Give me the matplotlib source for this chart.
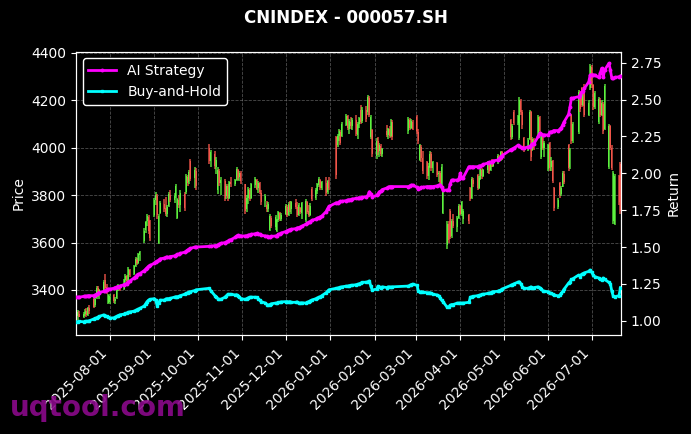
import numpy as np
import pandas as pd
import matplotlib
matplotlib.use("Agg")
import matplotlib.pyplot as plt
import matplotlib.dates as mdates

# ---------------- data ----------------
title = "CNINDEX - 000057.SH"
start_date = "2025-07-09"
end_date = "2026-07-21"
holidays = ["2025-10-01", "2025-10-02", "2025-10-03", "2025-10-06", "2025-10-07", "2025-10-08",
            "2026-01-01", "2026-01-02",
            "2026-02-16", "2026-02-17", "2026-02-18", "2026-02-19", "2026-02-20", "2026-02-23",
            "2026-04-06", "2026-05-01", "2026-05-04", "2026-05-05", "2026-06-19"]

open_ = [
    3330,3292,3300,3285,3298,3310,3296,3322,3360,3335,3365,3408,3380,3400,3440,3412,3345,
    3350,3378,3355,3365,3402,3415,3405,3440,3458,3440,3485,3468,3502,3528,3515,3548,3605,3652,3690,3708,3690,
    3715,3778,3795,3600,3725,3762,3745,3722,3755,3800,3780,3795,3705,3780,3760,3805,3815,3875,3855,3945,3872,3900,
    4000,3945,3975,3920,3820,3900,3850,3860,3795,3838,3790,3855,3848,3865,3905,3875,3892,
    3845,3740,3790,3822,3790,3842,3865,3830,3850,3810,3775,3760,3742,3655,3705,3665,3650,3695,3725,3700,
    3720,3752,3718,3760,3740,3768,3750,3718,3745,3725,3695,3772,3732,3718,3825,3788,3818,3842,3865,3832,3850,3812,3855,
    4045,4010,4048,4068,4050,4098,4132,4080,4110,4092,4115,4055,4100,4160,4112,4158,4150,4210,4045,4075,
    3965,4030,3985,4008,3975,4070,4055,4080,4050,4108,4070,4118,4085,4110,
    4130,4065,3950,4005,3955,3940,3880,3920,3975,3915,3935,3888,3895,3845,3725,3590,3680,3735,3628,3690,3665,3705,
    3755,3720,3700,3715,3830,3790,3865,3885,3832,3870,3908,3882,3905,3935,3905,3938,3925,3945,3962,3950,3980,
    4115,4045,4150,4105,4040,4198,4150,4040,3992,4035,4150,3990,4035,4050,4130,3960,4045,3998,
    3910,4020,3918,3945,3830,3748,3850,3805,3835,3890,4010,3920,4140,4030,4065,4230,4250,4182,4260,4140,4250,
    4340,4265,4170,4110,4200,4140,4185,4080,3920,4090,4000,3690,3680,3880,3930,
]
high = [
    3338,3315,3312,3305,3318,3322,3330,3335,3372,3370,3418,3415,3404,3440,3468,3425,3385,
    3383,3384,3370,3410,3425,3420,3448,3468,3465,3496,3490,3505,3538,3534,3556,3566,3660,3693,3721,3715,3695,
    3790,3812,3805,3721,3777,3784,3791,3760,3815,3820,3810,3848,3790,3800,3820,3812,3890,3885,3905,3953,3920,3915,
    4017,3990,3988,3960,3918,3910,3876,3870,3848,3845,3860,3876,3870,3918,3912,3904,3900,
    3848,3800,3834,3830,3850,3876,3870,3860,3856,3820,3805,3777,3770,3721,3712,3715,3700,3735,3730,3725,
    3763,3758,3770,3777,3775,3784,3770,3765,3749,3770,3784,3777,3760,3765,3834,3830,3850,3876,3870,3860,3876,3865,3876,
    4048,4060,4080,4075,4110,4143,4140,4120,4129,4125,4137,4110,4130,4179,4170,4175,4221,4218,4137,4080,
    4040,4045,4020,4015,4000,4094,4085,4090,4122,4115,4129,4125,4122,4118,
    4137,4080,4017,4010,3988,3946,3935,3988,3980,3946,3940,3904,3900,3932,3840,3693,3690,3742,3700,3721,3710,3763,
    3760,3777,3740,3721,3834,3876,3872,3890,3880,3918,3915,3912,3946,3942,3945,3953,3950,3974,3970,3988,3985,
    4122,4100,4158,4140,4214,4205,4160,4045,4040,4158,4155,4045,4040,4137,4135,4059,4052,4030,
    4017,4024,3960,3950,3834,3790,3855,3840,3904,3900,4017,4000,4143,4110,4242,4240,4256,4240,4270,4200,4355,
    4350,4270,4240,4214,4210,4200,4195,4270,4101,4095,4010,3904,3890,3885,3940,
]
low = [
    3278,3275,3284,3280,3290,3288,3290,3300,3325,3330,3360,3370,3362,3395,3400,3383,3340,
    3342,3345,3340,3360,3395,3397,3400,3432,3430,3436,3455,3462,3495,3505,3510,3524,3600,3640,3670,3637,3608,
    3707,3760,3700,3594,3720,3730,3714,3707,3749,3770,3765,3790,3700,3745,3728,3735,3805,3840,3845,3860,3830,3820,
    3930,3918,3910,3890,3806,3840,3800,3777,3785,3777,3785,3834,3838,3860,3862,3860,3848,
    3721,3730,3763,3775,3785,3830,3820,3810,3805,3760,3749,3728,3730,3650,3660,3655,3643,3686,3690,3692,
    3715,3707,3712,3730,3721,3740,3707,3710,3721,3700,3686,3720,3707,3712,3777,3780,3805,3835,3820,3822,3798,3805,3820,
    3869,4003,4030,4010,4045,4090,4075,4059,4080,4073,4050,4038,4085,4101,4105,4110,4140,4130,4038,3960,
    3953,3970,3960,3965,3960,4045,4038,4040,4045,4031,4059,4075,4078,4073,
    4060,4017,3946,3940,3890,3870,3862,3915,3904,3895,3876,3855,3834,3840,3721,3573,3600,3615,3620,3660,3643,3700,
    3715,3710,3679,3679,3777,3785,3834,3820,3825,3862,3870,3875,3895,3890,3900,3918,3920,3932,3940,3946,3950,
    4031,4035,4094,4095,4031,4140,4080,3981,3985,4031,3946,3988,3990,4045,4060,3953,3990,3960,
    3904,3904,3900,3850,3735,3740,3790,3795,3834,3845,3904,3912,4017,4020,4059,4150,4172,4175,4130,4135,4242,
    4250,4158,4165,4101,4130,4135,4059,4073,3911,3990,3905,3679,3672,3760,3720,
]
close = [
    3290,3305,3288,3300,3312,3295,3325,3310,3330,3362,3410,3378,3398,3435,3410,3388,3378,
    3376,3352,3362,3405,3418,3400,3442,3460,3438,3488,3465,3500,3530,3512,3550,3560,3650,3685,3712,3650,3620,
    3780,3800,3715,3710,3765,3740,3720,3752,3805,3778,3798,3840,3782,3760,3810,3745,3880,3850,3898,3870,3905,3840,
    3945,3980,3925,3950,3905,3850,3865,3790,3840,3790,3855,3845,3862,3910,3872,3895,3860,
    3735,3790,3825,3785,3845,3868,3828,3852,3812,3770,3798,3740,3762,3712,3670,3708,3695,3728,3700,3718,
    3755,3715,3762,3738,3770,3748,3715,3758,3728,3765,3775,3730,3715,3755,3785,3820,3845,3868,3830,3855,3810,3858,3830,
    3885,4050,4070,4022,4100,4135,4085,4112,4090,4118,4060,4102,4125,4110,4160,4120,4215,4140,4130,3975,
    4030,3980,4010,3972,3995,4055,4078,4048,4110,4045,4120,4085,4112,4080,
    4070,4030,4010,3955,3900,3880,3925,3975,3915,3938,3885,3895,3845,3920,3835,3680,3612,3625,3690,3668,3705,3755,
    3722,3770,3735,3690,3785,3868,3845,3830,3872,3910,3880,3905,3935,3902,3940,3925,3945,3965,3948,3982,3960,
    4045,4092,4105,4135,4200,4150,4095,3990,4032,4150,3960,4038,4000,4128,4070,4050,4000,4020,
    4010,3915,3945,3860,3745,3780,3800,3830,3895,3855,3915,3990,4030,4100,4235,4165,4180,4230,4140,4190,4345,
    4265,4170,4230,4205,4140,4190,4070,4260,4090,4000,3915,3895,3880,3770,3735,
]
ai_return = [
    1.16,1.16,1.16,1.165,1.165,1.165,1.17,1.17,1.17,1.175,1.18,1.185,1.19,1.20,1.205,1.21,1.215,
    1.215,1.22,1.225,1.23,1.232,1.235,1.245,1.25,1.252,1.262,1.27,1.29,1.30,1.31,1.315,1.32,1.34,1.35,1.36,1.37,1.375,
    1.39,1.40,1.405,1.41,1.42,1.425,1.43,1.432,1.43,1.435,1.44,1.445,1.45,1.452,1.457,1.465,1.47,1.48,1.485,1.49,1.50,1.50,
    1.505,1.505,1.51,1.51,1.515,1.52,1.525,1.53,1.535,1.54,1.545,1.55,1.565,1.575,1.58,1.578,1.575,
    1.575,1.577,1.58,1.583,1.586,1.59,1.593,1.59,1.585,1.58,1.575,1.572,1.57,1.57,1.572,1.575,1.578,1.585,1.59,1.595,
    1.605,1.61,1.615,1.618,1.62,1.625,1.63,1.632,1.635,1.64,1.655,1.66,1.668,1.672,1.68,1.69,1.695,1.70,1.705,1.71,1.74,1.76,1.775,
    1.80,1.80,1.805,1.81,1.81,1.815,1.82,1.82,1.822,1.825,1.83,1.83,1.835,1.835,1.838,1.84,1.85,1.875,1.86,1.84,
    1.85,1.86,1.875,1.88,1.89,1.90,1.905,1.91,1.91,1.91,1.91,1.915,1.92,1.92,
    1.905,1.895,1.90,1.905,1.905,1.91,1.91,1.91,1.91,1.91,1.915,1.92,1.92,1.905,1.886,1.886,1.886,1.93,1.954,1.954,1.954,1.96,
    2.00,1.965,1.97,2.045,2.045,2.045,2.045,2.045,2.05,2.05,2.055,2.06,2.07,2.075,2.075,2.08,2.085,2.09,2.10,2.11,2.12,
    2.16,2.165,2.17,2.19,2.185,2.175,2.17,2.17,2.18,2.18,2.19,2.20,2.20,2.25,2.27,2.265,2.26,2.26,
    2.26,2.28,2.28,2.285,2.29,2.29,2.30,2.31,2.33,2.35,2.40,2.45,2.51,2.51,2.52,2.53,2.55,2.56,2.576,2.62,2.667,
    2.667,2.667,2.667,2.65,2.68,2.712,2.65,2.70,2.746,2.70,2.644,2.645,2.65,2.655,2.66,
]
bh_return = [
    0.993,0.993,0.995,0.993,0.995,0.997,0.997,1.00,1.012,1.016,1.02,1.025,1.03,1.04,1.035,1.03,1.025,
    1.018,1.02,1.025,1.03,1.035,1.04,1.045,1.05,1.052,1.058,1.06,1.065,1.07,1.075,1.08,1.084,1.10,1.115,1.13,1.14,1.145,
    1.15,1.14,1.10,1.12,1.14,1.14,1.148,1.15,1.15,1.152,1.16,1.163,1.163,1.165,1.17,1.18,1.185,1.19,1.195,1.197,1.205,1.21,
    1.22,1.205,1.17,1.16,1.15,1.145,1.145,1.16,1.17,1.18,1.178,1.18,1.175,1.177,1.17,1.16,1.15,
    1.145,1.15,1.155,1.16,1.16,1.16,1.158,1.15,1.14,1.13,1.12,1.11,1.106,1.11,1.115,1.12,1.12,1.125,1.125,1.128,
    1.13,1.13,1.128,1.13,1.125,1.125,1.128,1.12,1.12,1.122,1.12,1.125,1.13,1.135,1.14,1.15,1.155,1.16,1.163,1.17,1.19,1.20,1.21,
    1.22,1.222,1.225,1.228,1.23,1.235,1.235,1.238,1.24,1.24,1.245,1.248,1.25,1.255,1.26,1.262,1.265,1.27,1.235,1.208,
    1.215,1.235,1.23,1.225,1.23,1.225,1.23,1.23,1.228,1.23,1.235,1.24,1.245,1.249,
    1.24,1.20,1.195,1.197,1.195,1.19,1.19,1.19,1.185,1.18,1.175,1.17,1.155,1.14,1.13,1.09,1.095,1.105,1.11,1.11,1.12,1.12,
    1.12,1.12,1.12,1.125,1.16,1.163,1.165,1.17,1.172,1.175,1.178,1.18,1.185,1.188,1.19,1.195,1.197,1.20,1.205,1.208,1.215,
    1.24,1.245,1.25,1.262,1.264,1.25,1.23,1.22,1.22,1.225,1.23,1.22,1.225,1.23,1.225,1.215,1.205,1.20,
    1.197,1.19,1.185,1.18,1.175,1.168,1.175,1.185,1.20,1.215,1.255,1.265,1.28,1.285,1.31,1.30,1.315,1.32,1.325,1.335,1.344,
    1.33,1.31,1.30,1.29,1.28,1.276,1.29,1.28,1.26,1.25,1.20,1.165,1.163,1.17,1.225,
]
price_ticks = [3400, 3600, 3800, 4000, 4200, 4400]
return_ticks = [1.00, 1.25, 1.50, 1.75, 2.00, 2.25, 2.50, 2.75]
watermark = "uqtool.com"

# ---------------- build ----------------
dates = pd.bdate_range(start_date, end_date)
dates = dates[~dates.isin(pd.to_datetime(holidays))]
n = len(dates)
for name, arr in [("open", open_), ("high", high), ("low", low), ("close", close),
                  ("ai", ai_return), ("bh", bh_return)]:
    if len(arr) != n:
        raise ValueError(f"{name}: {len(arr)} != {n}")

o = np.array(open_, float); h = np.array(high, float)
l = np.array(low, float); c = np.array(close, float)
x = mdates.date2num(dates.to_pydatetime())

GREEN = "#62ff42"
RED = "#ff5a4e"
up = c >= o
cols = np.where(up, GREEN, RED)

fig = plt.figure(figsize=(6.91, 4.34), dpi=100, facecolor="black")
ax = fig.add_axes([0.1097, 0.2270, 0.7891, 0.6543])
ax.set_facecolor("black")

ax.vlines(x, l, h, colors=cols, linewidth=1.1, alpha=0.85, zorder=2)
ax.bar(x, np.abs(c - o), bottom=np.minimum(o, c), width=0.7, color=cols,
       linewidth=0, alpha=0.85, zorder=2)

ax.set_ylim(3208, 4406)
ax.set_yticks(price_ticks)
ax.set_xlim(x[0] - 0.4, x[-1] + 0.4)
ax.grid(True, color="#808080", linestyle="--", linewidth=0.6, alpha=0.6, zorder=0)
ax.set_axisbelow(True)
ax.set_ylabel("Price", color="white", fontsize=10)

ax.xaxis.set_major_locator(mdates.MonthLocator(bymonthday=1))
ax.xaxis.set_major_formatter(mdates.DateFormatter("%Y-%m-%d"))
for lab in ax.get_xticklabels():
    lab.set_rotation(45)
    lab.set_ha("right")

ax2 = ax.twinx()
ax2.set_facecolor("none")
ax2.plot(dates, ai_return, color="#ff00ff", linewidth=2, marker="o", markersize=1.8,
         label="AI Strategy", zorder=3)
ax2.plot(dates, bh_return, color="#00ffff", linewidth=2, marker="s", markersize=1.8,
         label="Buy-and-Hold", zorder=3)
ax2.set_ylim(0.90, 2.826)
ax2.set_yticks(return_ticks)
ax2.yaxis.set_major_formatter(matplotlib.ticker.FormatStrFormatter("%.2f"))
ax2.set_ylabel("Return", color="white", fontsize=10)

for a in (ax, ax2):
    a.tick_params(colors="white", labelsize=10)
    for s in a.spines.values():
        s.set_color("white")

ax2.legend(loc="upper left", facecolor="black", edgecolor="white",
           labelcolor="white", fontsize=10, framealpha=1)

fig.text(0.5, 1 - 18 / 434, title, ha="center", va="center", color="white",
         fontsize=12, fontweight="bold")
fig.text(10 / 691, 1 - 416 / 434, watermark, ha="left", va="baseline",
         color="#8b0a8b", fontsize=20, fontweight="bold", alpha=0.9, zorder=10)

fig.savefig("out.png", dpi=100, facecolor="black")
